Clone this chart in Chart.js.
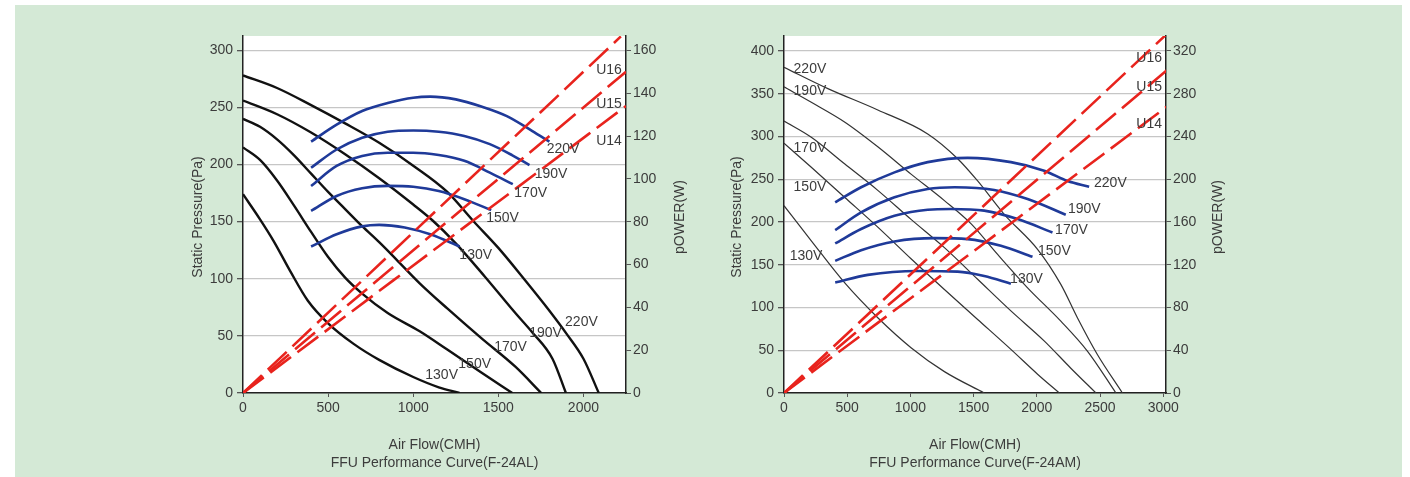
<!DOCTYPE html>
<html>
<head>
<meta charset="utf-8">
<script src="https://cdn.jsdelivr.net/npm/chart.js@4.4.1/dist/chart.umd.min.js"></script>
<style>
  html, body { margin: 0; padding: 0; background: #fff; width: 1410px; height: 477px; overflow: hidden; }
  #panel { position: absolute; left: 15px; top: 5px; width: 1387px; height: 472px; background: #d4e9d6; }
  canvas { position: absolute; top: 0; }
  #c1 { left: 0; }
  #c2 { left: 705px; }
</style>
</head>
<body>
<div id="panel"></div>
<canvas id="c1" width="705" height="477"></canvas>
<canvas id="c2" width="705" height="477"></canvas>
<script>
// ---- F-24AL : [flow CMH, static pressure Pa] ----
const alPress220 = [[0,278],[200,267],[400,252],[600,236],[800,219],[1000,199],[1200,176],[1350,151],[1500,127],[1650,100],[1800,72],[1900,52],[2000,30],[2090,0]];
const alPress190 = [[0,256],[200,244],[400,228],[600,209],[800,188],[1000,165],[1114,151],[1250,131],[1420,102],[1600,70],[1700,53],[1818,30],[1897,0]];
const alPress170 = [[0,240],[100,233],[200,222],[300,208],[400,192],[500,176],[600,161],[700,146],[800,132],[900,117],[1038,96],[1200,74],[1400,48],[1600,23],[1752,0]];
const alPress150 = [[0,215],[100,204],[200,186],[300,164],[400,141],[500,119],[600,101],[700,87],[850,70],[1038,54],[1200,38],[1400,18],[1582,0]];
const alPress130 = [[0,174],[100,152],[180,133],[280,106],[380,81],[500,61],[650,43],[800,29],[1000,14],[1150,5],[1272,0]];
// power curves [flow, W]
const alPower220 = [[400,117.4],[550,125.3],[700,131.7],[850,135.4],[1000,137.9],[1100,138.4],[1250,137.1],[1400,133.8],[1550,129.3],[1700,122.3],[1800,117.4]];
const alPower190 = [[400,105.2],[550,113.7],[700,119.2],[850,122],[1000,122.6],[1150,122],[1300,120],[1450,116.2],[1580,111.1],[1683,106.4]];
const alPower170 = [[400,96.7],[550,106],[700,110.7],[850,112.2],[1000,112.2],[1150,111.1],[1300,108.4],[1450,102.9],[1585,97.5]];
const alPower150 = [[400,85],[550,92],[700,95.6],[850,96.7],[1000,96.3],[1150,94.3],[1300,90.5],[1458,85.4]];
const alPower130 = [[400,68.4],[550,74.1],[700,77.8],[800,78.5],[950,77.3],[1100,74.1],[1273,68.4]];
const alU16 = [[0,0],[2220,166.5]];
const alU15 = [[0,0],[2250,150]];
const alU14 = [[0,0],[2250,134]];
const alFlowTicks = [0,500,1000,1500,2000];
const alPressTicks = [0,50,100,150,200,250,300];
const alPowerTicks = [0,20,40,60,80,100,120,140,160];
// labels [text, flow, Pa]
const alLabels = [
  ['220V',1988,62],['190V',1777,52.5],['170V',1572,40],['150V',1361,25.4],['130V',1167,15.7],
  ['220V',1880,213.5],['190V',1810,191.6],['170V',1690,175],['150V',1525,153],['130V',1367,120.7],
  ['U16',2150,282.6],['U15',2150,252.8],['U14',2150,220.5]
];

// ---- F-24AM ----
const amPress220 = [[0,381],[347,356],[742,331],[1137,303],[1374,274],[1532,248],[1742,209],[2006,168],[2190,127],[2321,88],[2479,45],[2677,0]];
const amPress190 = [[0,358],[216,340],[479,317],[742,288],[1005,256],[1269,225],[1479,198],[1690,162],[1927,123],[2190,84],[2400,49],[2626,0]];
const amPress170 = [[0,318],[216,299],[479,268],[742,237],[1005,203],[1269,170],[1532,133],[1795,96],[2058,61],[2269,29],[2468,0]];
const amPress150 = [[0,292],[216,264],[479,229],[742,194],[1005,157],[1269,121],[1532,86],[1795,51],[2006,22],[2178,0]];
const amPress130 = [[0,219],[216,178],[479,129],[742,88],[1005,53],[1269,25],[1584,0]];
const amPower220 = [[405,178.4],[610,192.5],[874,206.4],[1137,216],[1453,220],[1795,216],[2058,208],[2243,198.4],[2414,193]];
const amPower190 = [[405,152.4],[610,169],[874,183.1],[1137,190.9],[1350,192.5],[1663,190],[1927,181.5],[2229,166.8]];
const amPower170 = [[405,139.9],[610,153.4],[874,165.8],[1137,171.5],[1321,172.1],[1584,170.6],[1848,162.7],[2124,150.2]];
const amPower150 = [[405,123.6],[610,133.6],[874,141.8],[1190,144.9],[1453,144],[1716,137.7],[1966,127.4]];
const amPower130 = [[405,103.3],[663,110.5],[1058,114.2],[1374,113.6],[1584,109.5],[1795,102.3]];
const amU16 = [[0,0],[3030,336]];
const amU15 = [[0,0],[3030,302]];
const amU14 = [[0,0],[3030,268]];
const amFlowTicks = [0,500,1000,1500,2000,2500,3000];
const amPressTicks = [0,50,100,150,200,250,300,350,400];
const amPowerTicks = [0,40,80,120,160,200,240,280,320];
const amLabels = [
  ['220V',205,379],['190V',205,353],['170V',205,286],['150V',205,240.5],['130V',174,159.5],
  ['220V',2582,246],['190V',2376,214.7],['170V',2274,191],['150V',2139,165.4],['130V',1918,133.7],
  ['U16',2889,391.8],['U15',2889,357.8],['U14',2889,314.4]
];

const FONT = '"Liberation Sans", Arial, Helvetica, sans-serif';
const TXT = '#3c3c3c';
const BLUE = '#1f3a99';
const RED = '#e8231d';

function pts(a) { return a.map(p => ({ x: p[0], y: p[1] })); }

function makeChart(id, c) {
  const datasets = [];
  c.red.forEach(r => datasets.push({ data: pts(r), yAxisID: 'y1', borderColor: RED, borderWidth: 2.6, borderDash: [26, 8], order: 0 }));
  c.blue.forEach(b => datasets.push({ data: pts(b), yAxisID: 'y1', borderColor: BLUE, borderWidth: 2.6, order: 1 }));
  c.black.forEach(b => datasets.push({ data: pts(b), yAxisID: 'y', borderColor: c.blackColor, borderWidth: c.blackWidth, order: 2 }));

  const tickFont = { family: FONT, size: 14 };
  const setTicks = arr => s => { s.ticks = arr.map(v => ({ value: v })); };
  const plain = v => String(v);

  const deco = {
    id: 'deco',
    beforeDraw(ch) {
      const a = ch.chartArea, ctx = ch.ctx;
      ctx.save();
      ctx.fillStyle = '#fff';
      ctx.fillRect(a.left, a.top, a.right - a.left, a.bottom - a.top);
      ctx.restore();
    },
    afterDatasetsDraw(ch) {
      const ctx = ch.ctx, a = ch.chartArea;
      const sx = ch.scales.x, sy = ch.scales.y;
      ctx.save();
      ctx.fillStyle = TXT;
      ctx.font = '14px ' + FONT;
      ctx.textAlign = 'center';
      ctx.textBaseline = 'middle';
      c.labels.forEach(l => ctx.fillText(l[0], sx.getPixelForValue(l[1]), sy.getPixelForValue(l[2])));
      // x title
      const cx = (a.left + a.right) / 2;
      ctx.fillText('Air Flow(CMH)', cx, 445);
      ctx.fillText(c.caption, cx, 463);
      // y titles, both read bottom to top
      [[c.leftTitleX, 'Static Pressure(Pa)'], [c.rightTitleX, 'pOWER(W)']].forEach(t => {
        ctx.save();
        ctx.translate(t[0], 217);
        ctx.rotate(-Math.PI / 2);
        ctx.fillText(t[1], 0, 0);
        ctx.restore();
      });
      ctx.restore();
    }
  };

  return new Chart(document.getElementById(id), {
    type: 'line',
    data: { datasets },
    options: {
      responsive: false,
      animation: false,
      layout: { padding: { top: 36, left: 0, right: 0, bottom: 0 } },
      plugins: { legend: { display: false }, tooltip: { enabled: false } },
      elements: { point: { radius: 0 }, line: { cubicInterpolationMode: 'monotone', fill: false } },
      scales: {
        x: {
          type: 'linear', min: 0, max: c.xMax,
          afterBuildTicks: setTicks(c.xTicks),
          afterFit: s => { s.height = 84; },
          grid: { drawOnChartArea: false, tickLength: 4, tickColor: '#555' },
          border: { color: '#222', width: 1.5 },
          ticks: { font: tickFont, color: TXT, padding: 3, maxRotation: 0, autoSkip: false, callback: plain }
        },
        y: {
          type: 'linear', position: 'left', min: 0, max: c.yMax,
          afterBuildTicks: setTicks(c.yTicks),
          afterFit: s => { s.width = c.leftW; },
          grid: { color: '#c6c6c6', lineWidth: 1.3, tickLength: 6, tickColor: '#555' },
          border: { color: '#222', width: 1.5 },
          ticks: { font: tickFont, color: TXT, padding: 4, callback: plain }
        },
        y1: {
          type: 'linear', position: 'right', min: 0, max: c.y1Max,
          afterBuildTicks: setTicks(c.y1Ticks),
          afterFit: s => { s.width = c.rightW; },
          grid: { drawOnChartArea: false, tickLength: 5, tickColor: '#555' },
          border: { color: '#222', width: 1.5 },
          ticks: { font: tickFont, color: TXT, padding: 2, callback: plain }
        }
      }
    },
    plugins: [deco]
  });
}

makeChart('c1', {
  black: [alPress220, alPress190, alPress170, alPress150, alPress130],
  blue: [alPower220, alPower190, alPower170, alPower150, alPower130],
  red: [alU16, alU15, alU14],
  blackColor: '#111', blackWidth: 2.4,
  xMax: 2250, yMax: 312.5, y1Max: 166.7,
  xTicks: alFlowTicks, yTicks: alPressTicks, y1Ticks: alPowerTicks,
  leftW: 243, rightW: 79,
  labels: alLabels,
  caption: 'FFU Performance Curve(F-24AL)',
  leftTitleX: 198, rightTitleX: 680
});

makeChart('c2', {
  black: [amPress220, amPress190, amPress170, amPress150, amPress130],
  blue: [amPower220, amPower190, amPower170, amPower150, amPower130],
  red: [amU16, amU15, amU14],
  blackColor: '#333', blackWidth: 1.2,
  xMax: 3022, yMax: 417.5, y1Max: 334,
  xTicks: amFlowTicks, yTicks: amPressTicks, y1Ticks: amPowerTicks,
  leftW: 79, rightW: 244,
  labels: amLabels,
  caption: 'FFU Performance Curve(F-24AM)',
  leftTitleX: 32, rightTitleX: 513
});
</script>
</body>
</html>
